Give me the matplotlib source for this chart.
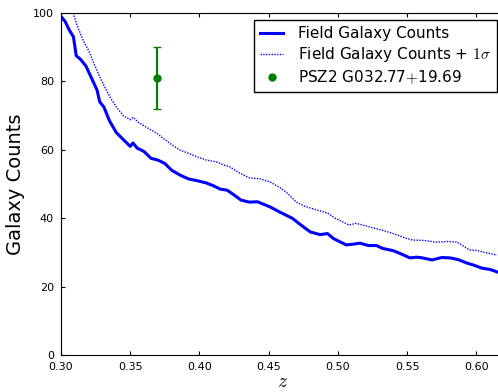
import matplotlib
matplotlib.use("Agg")
import matplotlib.pyplot as plt

z_field = [0.300, 0.303, 0.306, 0.309, 0.311, 0.314, 0.318, 0.322, 0.326, 0.328,
           0.331, 0.335, 0.340, 0.345, 0.350, 0.352, 0.355, 0.360, 0.365, 0.370,
           0.375, 0.380, 0.386, 0.392, 0.398, 0.405, 0.410, 0.415, 0.420, 0.425,
           0.430, 0.436, 0.442, 0.451, 0.458, 0.467, 0.474, 0.480, 0.487, 0.4925,
           0.497, 0.506, 0.511, 0.516, 0.522, 0.528, 0.532, 0.540, 0.546, 0.552,
           0.557, 0.561, 0.568, 0.575, 0.581, 0.587, 0.593, 0.598, 0.604, 0.610, 0.615]
counts = [99.0, 97.5, 95.0, 93.0, 87.5, 86.5, 84.5, 81.0, 77.5, 74.0,
          72.5, 68.5, 65.0, 63.0, 61.0, 62.0, 60.5, 59.5, 57.5, 57.0,
          56.0, 54.0, 52.6, 51.5, 51.0, 50.3, 49.5, 48.5, 48.2, 46.8,
          45.3, 44.7, 44.8, 43.3, 41.8, 40.0, 37.8, 36.0, 35.2, 35.5,
          34.0, 32.2, 32.4, 32.7, 32.0, 32.0, 31.2, 30.5, 29.5, 28.4,
          28.6, 28.4, 27.8, 28.5, 28.4, 27.9, 26.9, 26.3, 25.4, 25.0, 24.3]

z_sigma = [0.3087, 0.312, 0.316, 0.320, 0.324, 0.328, 0.332, 0.336, 0.340, 0.345,
           0.350, 0.352, 0.356, 0.362, 0.369, 0.375, 0.380, 0.386, 0.392, 0.398,
           0.405, 0.412, 0.418, 0.422, 0.429, 0.436, 0.444, 0.451, 0.458, 0.463,
           0.467, 0.470, 0.476, 0.484, 0.4925, 0.498, 0.508, 0.513, 0.518, 0.525,
           0.532, 0.540, 0.548, 0.554, 0.562, 0.571, 0.580, 0.586, 0.592, 0.595,
           0.600, 0.606, 0.615]
counts_sigma = [100.0, 96.0, 92.0, 89.0, 85.0, 81.3, 78.0, 75.0, 72.5, 70.0,
                68.8, 69.5, 68.0, 66.5, 64.9, 63.0, 61.5, 59.9, 59.0, 58.0,
                57.0, 56.5, 55.5, 55.0, 53.2, 51.8, 51.5, 50.6, 49.0, 47.5,
                45.9, 44.7, 43.5, 42.5, 41.5, 40.0, 38.0, 38.5, 38.0, 37.2,
                36.5, 35.5, 34.3, 33.6, 33.5, 33.0, 33.2, 33.0, 31.5, 30.7,
                30.6, 30.0, 29.2]

cluster_z = [0.369]
cluster_counts = [81.0]
cluster_err = [9.0]

plt.rcParams["mathtext.fontset"] = "cm"

fig = plt.figure(figsize=(4.98, 3.92), dpi=100)
# the right edge of the axes runs slightly past the figure, as in the reference
ax = fig.add_axes([61 / 498, 37 / 392, 443 / 498, 342 / 392])

ax.plot(z_field, counts, color="blue", lw=2.2, label="Field Galaxy Counts")
ax.plot(z_sigma, counts_sigma, color="blue", lw=1.0, ls=(0, (1, 1)),
        label=r"Field Galaxy Counts + $1\sigma$")
ax.errorbar(cluster_z, cluster_counts, yerr=cluster_err, fmt="o", color="green",
            ms=5, lw=1.5, capsize=3)
ax.plot([], [], "o", color="green", ms=5, label=r"PSZ2 G032.77$+$19.69")

ax.set_xlim(0.30, 0.62)
ax.set_ylim(0, 100)
ax.set_xticks([0.30, 0.35, 0.40, 0.45, 0.50, 0.55, 0.60])
ax.set_xticklabels(["0.30", "0.35", "0.40", "0.45", "0.50", "0.55", "0.60"])
ax.tick_params(direction="in", top=True, right=True, labelsize=8, length=3, pad=5)
ax.set_xlabel("$z$", fontsize=14, labelpad=0)
ax.set_ylabel("Galaxy Counts", fontsize=14, labelpad=6)

leg = ax.legend(loc="upper right", fontsize=11, numpoints=1, handlelength=1.5,
                handletextpad=1.0, fancybox=False, framealpha=1,
                edgecolor="black", borderaxespad=0.45, labelspacing=0.28)
leg.get_frame().set_linewidth(1.0)

fig.savefig("out.png", dpi=100)
